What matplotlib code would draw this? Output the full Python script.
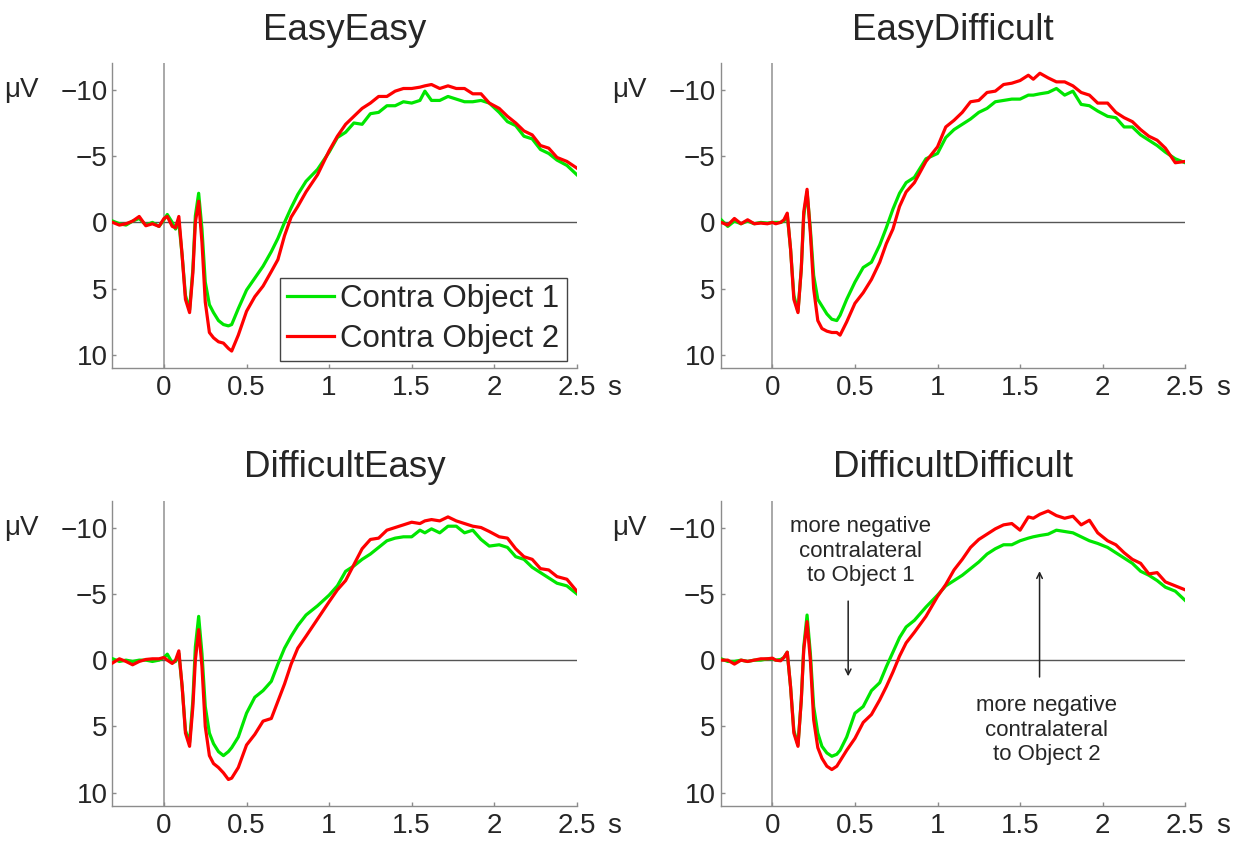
import matplotlib
matplotlib.use("Agg")
import matplotlib.pyplot as plt
import numpy as np

plt.rcParams['font.family'] = ['Liberation Sans', 'DejaVu Sans']

# time points (s)
t = [-0.31, -0.27, -0.23, -0.19, -0.15, -0.11, -0.07, -0.03, 0.0, 0.02, 0.05, 0.07,
     0.09, 0.11, 0.13, 0.155, 0.175, 0.19, 0.21, 0.23, 0.25, 0.275, 0.3, 0.33, 0.36,
     0.39, 0.41, 0.45, 0.5, 0.55, 0.6, 0.65, 0.69, 0.73, 0.77, 0.81, 0.86, 0.93, 1.0,
     1.05, 1.1, 1.15, 1.2, 1.25, 1.3, 1.35, 1.4, 1.45, 1.5, 1.55, 1.58, 1.62, 1.67,
     1.72, 1.77, 1.82, 1.87, 1.92, 1.97, 2.03, 2.08, 2.13, 2.18, 2.23, 2.28, 2.33,
     2.38, 2.44, 2.5]

# EasyEasy
ee_green = [-0.1, 0.1, 0.2, -0.1, -0.3, 0.2, 0.0, 0.3, -0.2, -0.6, 0.0, 0.5,
            0.0, 2.5, 5.5, 6.6, 3.5, -0.5, -2.2, 0.5, 4.5, 6.2, 6.8, 7.4, 7.7,
            7.8, 7.7, 6.5, 5.1, 4.2, 3.3, 2.2, 1.2, 0.0, -1.1, -2.1, -3.1, -4.0, -5.3,
            -6.4, -6.8, -7.5, -7.4, -8.2, -8.3, -8.8, -8.8, -9.1, -9.0, -9.2, -9.9, -9.2, -9.2,
            -9.5, -9.3, -9.1, -9.1, -9.2, -9.0, -8.3, -7.6, -7.3, -6.5, -6.3, -5.5, -5.2,
            -4.7, -4.3, -3.6]
ee_red = [0.0, 0.2, 0.1, -0.1, -0.45, 0.25, 0.1, 0.3, -0.3, -0.45, 0.3, 0.4,
          -0.45, 2.5, 5.8, 6.8, 3.8, 0.0, -1.6, 1.5, 6.0, 8.3, 8.7, 9.0, 9.1,
          9.5, 9.7, 8.5, 6.7, 5.6, 4.8, 3.7, 2.8, 1.0, -0.4, -1.2, -2.3, -3.6, -5.4,
          -6.5, -7.4, -8.0, -8.6, -9.0, -9.5, -9.5, -9.9, -10.1, -10.1, -10.2, -10.3, -10.4, -10.1,
          -10.3, -10.1, -10.1, -9.7, -9.7, -9.0, -8.6, -8.0, -7.5, -6.9, -6.6, -5.8, -5.6,
          -4.9, -4.6, -4.1]

# EasyDifficult
ed_green = [-0.2, 0.3, -0.1, 0.1, -0.1, 0.1, 0.0, 0.05, 0.0, 0.0, 0.0, -0.1,
            -0.6, 2.0, 5.5, 6.7, 3.5, -0.5, -2.3, 0.5, 4.0, 5.8, 6.3, 6.9, 7.3,
            7.4, 7.0, 5.8, 4.5, 3.4, 3.0, 1.7, 0.4, -1.0, -2.2, -3.0, -3.4, -4.8, -5.2,
            -6.4, -7.0, -7.4, -7.8, -8.3, -8.6, -9.1, -9.2, -9.3, -9.3, -9.6, -9.6, -9.7, -9.8,
            -10.1, -9.6, -9.9, -8.9, -8.8, -8.4, -8.0, -7.9, -7.2, -7.2, -6.6, -6.2, -5.8,
            -5.3, -4.8, -4.5]
ed_red = [0.0, 0.2, -0.3, 0.1, -0.2, 0.1, 0.05, 0.1, 0.0, 0.1, 0.0, -0.2,
          -0.7, 2.0, 5.8, 6.8, 3.5, -0.8, -2.5, 0.8, 5.0, 7.4, 8.0, 8.2, 8.3,
          8.3, 8.5, 7.5, 6.1, 5.3, 4.3, 3.0, 1.6, 0.5, -1.2, -2.3, -3.0, -4.6, -5.7,
          -7.2, -7.7, -8.3, -9.1, -9.2, -9.8, -9.9, -10.4, -10.5, -10.7, -11.1, -10.8, -11.25, -10.9,
          -10.6, -10.6, -10.3, -9.8, -9.6, -9.0, -9.0, -8.3, -7.9, -7.6, -7.0, -6.5, -6.2,
          -5.6, -4.5, -4.6]

# DifficultEasy
de_green = [-0.1, 0.1, 0.0, 0.1, 0.0, 0.0, 0.1, 0.0, -0.2, -0.45, 0.2, 0.1,
            -0.5, 2.0, 5.3, 6.2, 3.0, -1.0, -3.3, -0.5, 3.5, 5.5, 6.3, 6.9, 7.2,
            6.9, 6.6, 5.8, 4.0, 2.8, 2.3, 1.6, 0.3, -0.9, -1.8, -2.6, -3.4, -4.1, -4.9,
            -5.6, -6.7, -7.1, -7.6, -8.0, -8.5, -9.0, -9.2, -9.3, -9.3, -9.8, -9.6, -9.9, -9.6,
            -10.1, -10.1, -9.6, -9.8, -9.1, -8.6, -8.7, -8.5, -7.8, -7.6, -7.0, -6.6, -6.2,
            -5.8, -5.6, -5.0]
de_red = [0.2, -0.1, 0.1, 0.35, 0.1, -0.05, -0.1, -0.1, -0.2, 0.0, 0.25, 0.0,
          -0.7, 2.0, 5.5, 6.5, 3.5, 0.0, -2.3, 0.5, 5.0, 7.2, 7.8, 8.1, 8.5,
          9.0, 8.9, 8.1, 6.4, 5.6, 4.6, 4.4, 3.1, 1.8, 0.3, -0.9, -1.8, -3.1, -4.4,
          -5.3, -6.0, -7.2, -8.4, -9.1, -9.2, -9.8, -10.0, -10.2, -10.4, -10.3, -10.5, -10.6, -10.5,
          -10.8, -10.5, -10.3, -10.1, -10.0, -9.7, -9.3, -9.2, -8.4, -7.8, -7.6, -6.9, -6.8,
          -6.3, -6.1, -5.2]

# DifficultDifficult
dd_green = [-0.1, 0.1, 0.1, 0.0, 0.1, 0.0, 0.0, -0.1, -0.1, 0.0, -0.05, -0.2,
            -0.6, 2.0, 5.3, 6.4, 3.0, -1.0, -3.4, -0.5, 3.5, 5.5, 6.5, 7.0, 7.25,
            7.1, 6.8, 5.8, 4.0, 3.5, 2.3, 1.7, 0.5, -0.6, -1.7, -2.5, -3.0, -4.0, -4.9,
            -5.6, -6.0, -6.4, -6.9, -7.4, -8.0, -8.4, -8.7, -8.7, -9.0, -9.2, -9.3, -9.4, -9.5,
            -9.8, -9.7, -9.6, -9.3, -9.0, -8.8, -8.5, -8.1, -7.7, -7.3, -6.7, -6.4, -6.0,
            -5.5, -5.2, -4.5]
dd_red = [0.0, 0.0, 0.3, 0.0, 0.1, 0.0, -0.1, -0.1, -0.15, 0.0, 0.05, -0.2,
          -0.6, 2.0, 5.5, 6.5, 3.0, -0.8, -2.9, 0.0, 4.5, 6.6, 7.4, 8.0, 8.25,
          8.0, 7.6, 6.8, 5.9, 4.7, 4.1, 3.0, 2.0, 0.9, -0.3, -1.3, -2.1, -3.3, -4.8,
          -5.7, -6.8, -7.6, -8.5, -9.1, -9.5, -9.9, -10.2, -10.3, -9.8, -10.8, -10.7, -11.0, -11.25,
          -10.9, -10.7, -10.85, -10.2, -10.55, -9.6, -9.0, -8.7, -8.1, -7.6, -7.3, -6.5, -6.6,
          -5.9, -5.6, -5.3]

titles = ['EasyEasy', 'EasyDifficult', 'DifficultEasy', 'DifficultDifficult']
greens = [ee_green, ed_green, de_green, dd_green]
reds = [ee_red, ed_red, de_red, dd_red]
legend_labels = ['Contra Object 1', 'Contra Object 2']
xticks = [0, 0.5, 1, 1.5, 2, 2.5]
xticklabels = ['0', '0.5', '1', '1.5', '2', '2.5']
yticks = [-10, -5, 0, 5, 10]

W, H = 1242, 846
fig = plt.figure(figsize=(W / 100, H / 100), dpi=100)

# axes boxes in pixels: left, top
boxes = [(112.3, 63.3), (720.7, 63.3), (112.3, 501.0), (720.7, 501.0)]
aw, ah = 464.5, 305.0

GREEN = '#00e600'
RED = '#ff0000'
GREY = '#8c8c8c'
TXT = '#262626'

axes = []
for i in range(4):
    l, tp = boxes[i]
    ax = fig.add_axes([l / W, (H - tp - ah) / H, aw / W, ah / H])
    axes.append(ax)
    ax.axvline(0, color='#999999', lw=1.2, zorder=1)
    ax.axhline(0, color='#555555', lw=1.0, zorder=1)
    g, = ax.plot(t, greens[i], color=GREEN, lw=2.3, zorder=3)
    r, = ax.plot(t, reds[i], color=RED, lw=2.3, zorder=4)
    ax.set_xlim(-0.313, 2.5)
    ax.set_ylim(11, -12)
    ax.set_xticks(xticks)
    ax.set_xticklabels(xticklabels)
    ax.set_yticks(yticks)
    for s in ['top', 'right']:
        ax.spines[s].set_visible(False)
    for s in ['left', 'bottom']:
        ax.spines[s].set_color(GREY)
        ax.spines[s].set_linewidth(1.0)
    ax.tick_params(direction='in', length=3, width=1, color=GREY,
                   labelsize=20, labelcolor=TXT)
    ax.tick_params(axis='x', pad=5)
    ax.tick_params(axis='y', pad=3.5)
    ax.set_title(titles[i], fontsize=26.5, color=TXT, pad=17)
    ax.annotate('μV', xy=(0, -10), xycoords=('axes fraction', 'data'),
                xytext=(-53, 0), textcoords='offset points',
                ha='right', va='center', fontsize=20, color=TXT)
    ax.annotate('s', xy=(1, 0), xycoords='axes fraction',
                xytext=(22, -5), textcoords='offset points',
                ha='left', va='top', fontsize=20, color=TXT)
    if i == 0:
        leg = ax.legend([g, r], legend_labels, loc='lower right',
                        bbox_to_anchor=(0.978, 0.025), borderaxespad=0,
                        fontsize=22.5, fancybox=False, framealpha=1,
                        edgecolor='#444444', handlelength=1.5, handletextpad=0.2,
                        borderpad=0.22, labelspacing=0.3, labelcolor=TXT)
        leg.get_frame().set_linewidth(1.0)

# annotations on DifficultDifficult
ax = axes[3]
ax.text(0.536, -8.2, 'more negative\ncontralateral\nto Object 1', ha='center',
        va='center', fontsize=16, color=TXT, linespacing=1.22)
ax.annotate('', xy=(0.459, 1.43), xytext=(0.459, -4.66),
            arrowprops=dict(arrowstyle='->', color='#222222', lw=1.1))
ax.annotate('', xy=(1.618, -6.92), xytext=(1.618, 1.48),
            arrowprops=dict(arrowstyle='->', color='#222222', lw=1.1))
ax.text(1.66, 5.29, 'more negative\ncontralateral\nto Object 2', ha='center',
        va='center', fontsize=16, color=TXT, linespacing=1.22)

fig.savefig('out.png', dpi=100, facecolor='white')
